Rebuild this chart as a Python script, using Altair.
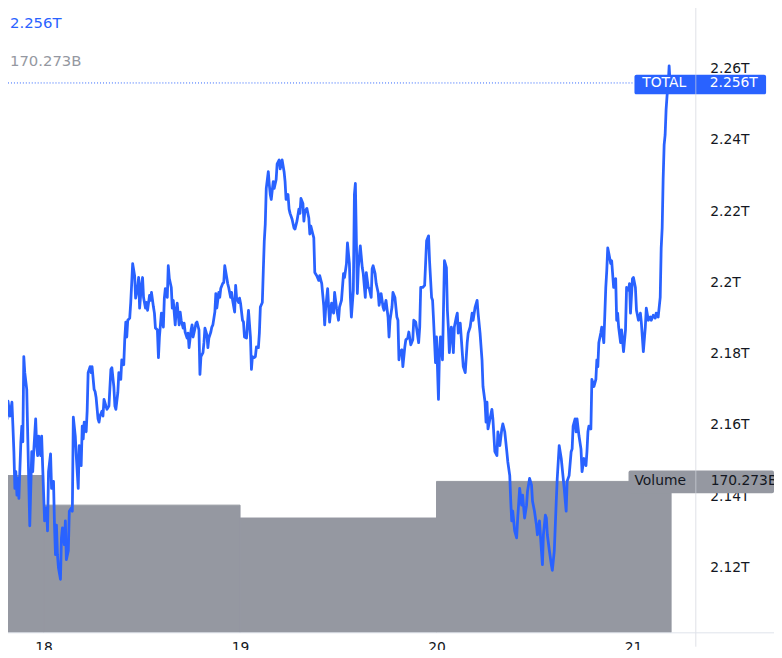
import altair as alt
import pandas as pd

# time in hours since 18 Dec 00:00, total market cap in billions USD
hours = [
 -5.32,-4.96,-4.72,-4.59,-4.47,-4.35,-4.11,-3.87,-3.75,-3.63,-3.51,-3.39,-3.26,-3.14,-3.02,-2.78,-2.66,-2.54,-2.42,-2.30,
 -2.06,-1.93,-1.69,-1.45,-1.33,-1.21,-0.97,-0.85,-0.73,-0.60,-0.36,-0.24,-0.12,0.12,0.36,0.48,0.60,0.85,0.97,1.21,
 1.33,1.45,1.57,1.69,1.81,2.06,2.18,2.30,2.54,2.66,2.78,3.02,3.14,3.39,3.51,3.63,3.87,3.99,4.23,4.35,
 4.59,4.72,4.84,4.96,5.20,5.32,5.44,5.68,5.80,5.92,6.17,6.29,6.41,6.65,6.77,6.89,7.13,7.25,7.38,7.62,
 7.74,7.98,8.22,8.34,8.58,8.71,8.83,9.07,9.19,9.43,9.55,9.79,9.91,10.04,
 10.16,10.28,10.52,10.64,10.76,10.88,11.12,11.24,11.49,11.61,11.73,11.97,12.09,12.21,12.45,12.57,12.70,12.94,13.06,13.18,
 13.42,13.54,13.66,13.90,14.03,14.15,14.39,14.63,14.75,14.87,15.11,15.23,15.36,15.60,15.72,15.84,16.08,16.20,16.32,16.56,
 16.69,16.81,17.05,17.17,17.29,17.53,17.65,17.77,18.02,18.14,18.26,18.50,18.62,18.74,18.98,19.10,19.22,19.47,19.59,19.71,
 19.95,20.07,20.19,20.43,20.55,20.68,20.92,21.04,21.16,21.40,21.52,21.64,21.88,22.01,22.13,22.37,22.49,22.61,22.85,22.97,
 23.09,23.34,23.46,23.58,23.82,23.94,24.06,24.30,24.42,24.54,24.79,24.91,25.03,25.27,25.39,25.51,25.75,25.87,26.00,26.24,
 26.36,26.48,26.72,26.84,26.96,
 27.08,27.20,27.45,27.57,27.69,27.81,28.05,28.17,28.41,28.53,28.78,28.90,29.14,29.38,29.50,29.62,29.86,29.99,30.11,30.35,
 30.59,30.71,30.95,31.19,31.32,31.44,31.68,31.80,31.92,32.16,32.40,32.52,32.65,32.89,33.01,33.13,33.37,33.61,33.73,33.98,
 34.22,34.34,34.46,34.70,34.82,34.94,35.18,35.43,35.55,35.79,36.03,36.15,36.39,36.64,36.76,37.00,37.12,37.36,37.48,37.60,
 37.84,37.97,38.09,38.21,38.33,38.45,38.69,38.93,39.05,39.30,39.42,39.66,39.78,40.02,40.14,40.26,40.50,40.63,40.87,40.99,
 41.23,41.47,41.59,41.83,42.08,42.20,42.32,42.56,42.68,42.92,43.16,43.29,43.41,43.53,43.77,43.89,44.13,44.25,44.49,44.62,
 44.86,45.10,45.22,45.46,
 45.82,45.95,46.07,46.31,46.55,46.79,47.03,47.15,47.40,47.52,47.64,47.88,48.00,48.24,48.36,48.48,48.73,48.85,48.97,49.21,
 49.33,49.45,49.57,49.81,49.94,50.06,50.18,50.42,50.54,50.66,50.90,51.15,51.27,51.51,51.75,51.87,52.11,52.35,52.47,52.72,
 52.96,53.08,53.32,53.56,53.68,53.93,54.05,54.17,54.29,54.53,54.77,54.89,55.13,55.38,55.50,55.74,55.98,56.10,56.34,56.59,
 56.71,56.95,57.07,57.19,57.31,57.55,57.79,57.92,58.16,58.40,58.52,58.76,59.00,59.12,59.37,59.61,59.73,59.97,60.21,60.33,
 60.58,60.82,60.94,61.06,61.30,61.42,61.54,61.79,62.03,62.15,62.39,62.63,62.75,62.99,63.24,63.36,63.60,63.84,63.96,64.20,
 64.45,64.57,64.69,64.93,65.05,65.17,65.41,65.65,65.78,66.02,66.26,66.38,66.50,66.62,66.86,66.98,67.23,67.47,67.59,67.71,
 67.83,68.07,68.19,68.44,68.68,68.80,68.92,69.16,69.28,69.40,69.64,69.89,70.01,70.13,70.25,70.49,70.61,70.85,71.09,71.22,
 71.46,71.58,71.70,71.94,72.06,72.30,72.43,72.67,72.91,73.03,73.27,73.51,73.63,73.88,74.12,74.24,74.48,74.72,74.84,75.08,
 75.33,75.45,75.57,75.69,75.81,75.93,76.05,76.17,76.30,76.42,76.54,
]
total_b = [
 2156.1,2174.2,2174.7,2166.4,2161.7,2166.7,2162.5,2166.4,2159.7,2152.5,2142.2,2146.9,2140.3,2145.0,2139.4,2155.3,2159.7,2155.3,2179.2,2174.7,
 2170.0,2156.1,2131.7,2152.5,2146.9,2152.5,2161.7,2154.2,2151.4,2156.9,2151.4,2156.9,2148.6,2133.1,2136.7,2130.3,2146.9,2151.9,2142.2,2144.2,
 2131.9,2123.6,2131.9,2123.6,2120.0,2116.7,2128.3,2131.1,2126.4,2133.1,2122.2,2124.7,2135.8,2136.7,2135.8,2162.2,2156.9,2151.4,2142.2,2154.2,
 2148.6,2159.7,2156.1,2160.8,2158.1,2163.9,2174.7,2176.4,2174.7,2176.4,2170.0,2169.4,2167.8,2161.7,2160.8,2162.5,2163.9,2162.5,2167.2,2165.3,
 2164.4,2165.3,2175.6,2176.1,2170.8,2165.3,2164.4,2169.2,2174.7,2172.8,2178.3,2176.9,2183.9,2188.9,
 2184.7,2189.4,2190.0,2194.2,2199.7,2205.3,2201.9,2195.6,2198.6,2201.4,2192.8,2199.7,2201.4,2195.8,2192.8,2194.4,2192.2,2196.4,2195.0,2197.2,
 2193.1,2191.4,2187.2,2186.7,2178.9,2184.7,2191.4,2187.5,2195.6,2198.3,2195.8,2204.7,2201.1,2198.6,2192.8,2195.0,2188.1,2192.2,2194.2,2188.1,
 2191.7,2189.4,2187.2,2188.6,2186.1,2184.4,2185.8,2181.7,2186.7,2188.1,2184.7,2187.2,2188.6,2188.9,2186.7,2174.2,2179.2,2180.3,2183.1,2187.2,
 2185.3,2181.7,2184.4,2186.1,2187.5,2188.1,2191.7,2196.9,2192.8,2197.2,2195.8,2198.3,2199.7,2200.0,2204.7,2201.4,2199.7,2198.6,2195.8,2197.2,
 2195.0,2191.7,2199.2,2195.6,2194.4,2195.6,2194.2,2189.4,2188.9,2184.7,2184.4,2188.6,2192.2,2184.7,2175.6,2179.2,2178.9,2179.2,2181.9,2181.7,
 2185.8,2193.1,2194.4,2203.3,2211.7,
 2216.4,2226.4,2231.1,2227.5,2224.7,2223.3,2228.3,2226.4,2228.9,2233.3,2234.4,2231.9,2234.4,2231.1,2228.3,2223.3,2224.7,2220.6,2219.4,2217.8,
 2215.3,2215.0,2217.2,2220.6,2219.4,2223.6,2222.2,2217.2,2220.0,2220.8,2218.1,2213.6,2215.8,2213.6,2212.5,2202.8,2201.9,2200.6,2201.9,2199.7,
 2193.6,2188.1,2192.8,2198.3,2193.1,2188.9,2194.2,2191.4,2197.2,2192.8,2189.4,2193.1,2195.0,2202.5,2201.4,2205.3,2211.1,2205.3,2195.8,2190.3,
 2197.8,2224.7,2227.8,2211.7,2196.9,2204.2,2210.3,2204.2,2202.5,2195.8,2202.8,2198.6,2198.3,2195.8,2203.9,2204.7,2202.5,2199.7,2197.2,2193.6,
 2196.9,2193.1,2192.2,2195.0,2190.3,2184.7,2189.4,2193.1,2197.2,2195.8,2190.3,2189.4,2178.3,2180.6,2181.1,2176.4,2181.9,2183.9,2184.4,2186.1,
 2182.5,2183.9,2189.4,2188.9,
 2183.1,2187.5,2198.6,2198.6,2199.2,2211.7,2213.1,2206.1,2195.8,2195.0,2189.4,2177.5,2184.7,2167.2,2180.3,2184.7,2178.3,2192.2,2206.1,2204.2,
 2192.2,2187.2,2180.3,2187.5,2185.8,2180.3,2187.5,2190.3,2191.4,2185.8,2188.6,2180.3,2176.4,2174.7,2183.1,2185.8,2187.5,2191.4,2189.4,2193.1,
 2195.0,2191.4,2185.8,2178.3,2170.8,2166.4,2160.8,2166.4,2158.9,2161.7,2164.4,2161.7,2152.5,2151.4,2158.1,2154.2,2158.9,2160.3,2158.1,2152.5,
 2149.7,2145.8,2138.6,2133.1,2135.8,2130.3,2128.3,2133.9,2142.2,2137.5,2140.3,2133.9,2137.5,2141.4,2145.0,2143.1,2138.6,2135.8,2131.9,2129.2,
 2133.1,2124.7,2120.8,2129.2,2134.7,2133.9,2129.2,2124.7,2120.8,2119.2,2124.7,2138.6,2145.0,2154.2,2150.6,2147.8,2142.2,2135.8,2144.2,2145.8,
 2152.5,2153.3,2159.7,2161.7,2158.1,2161.7,2156.9,2153.3,2146.9,2150.6,2148.6,2152.5,2158.1,2159.7,2158.9,2172.8,2170.8,2172.8,2178.3,2176.4,
 2183.1,2185.8,2187.5,2183.1,2198.6,2203.3,2209.7,2206.9,2205.3,2206.1,2198.6,2201.1,2189.4,2191.4,2187.5,2183.1,2186.7,2180.6,2186.7,2198.6,
 2197.8,2199.7,2191.4,2201.1,2201.4,2198.6,2192.2,2189.4,2191.4,2188.6,2180.6,2187.5,2192.8,2189.4,2190.3,2189.4,2190.8,2190.0,2191.4,2190.3,
 2195.8,2209.7,2215.3,2229.2,2238.6,2241.4,2248.6,2252.5,2255.3,2260.8,2256.0,
]

# daily volume (billions USD)
vol_start = [-24, 0, 24, 48]
vol_end = [0, 24, 48, 76.66]
vol_b = [176.9, 143.6, 129.1, 170.273]

x_tick_hours = [0, 24, 48, 72]
y_ticks_b = [2120, 2140, 2160, 2180, 2200, 2220, 2240, 2260]

last_total = 2256.0
last_volume = 170.273

X_DOM = [-4.35, 79.68]
Y_DOM = [2101.67, 2276.11]
V_DOM = [0, 698.9]

BLUE = "#2962FF"
GRAY = "#9598A1"
DARK = "#131722"
FONT = "DejaVu Sans"

line_df = pd.DataFrame({"h": hours, "v": total_b})
vol_df = pd.DataFrame({"s": vol_start, "e": vol_end, "vol": vol_b, "zero": [0] * len(vol_b)})
one = pd.DataFrame({"k": [0]})

xscale = alt.Scale(domain=X_DOM, nice=False, zero=False)
yscale = alt.Scale(domain=Y_DOM, nice=False, zero=False)
vscale = alt.Scale(domain=V_DOM, nice=False, zero=False)

volume = alt.Chart(vol_df).mark_rect(color=GRAY, stroke=GRAY, strokeWidth=1, clip=True).encode(
    x=alt.X("s:Q", scale=xscale,
            axis=alt.Axis(values=x_tick_hours, labelExpr="'' + (18 + round(datum.value / 24))",
                          domain=False, ticks=False, grid=False, labelPadding=8,
                          labelFont=FONT, labelFontSize=14, labelColor=DARK, title=None)),
    x2="e:Q",
    y=alt.Y("vol:Q", scale=vscale, axis=None),
    y2="zero:Q",
)

dotted = alt.Chart(one).mark_rule(color=BLUE, strokeDash=[1, 2], strokeWidth=1).encode(
    y=alt.YDatum(last_total, type="quantitative", scale=yscale, axis=None),
    x=alt.value(0), x2=alt.value(633),
)

line = alt.Chart(line_df).mark_line(color=BLUE, strokeWidth=2.8, clip=True,
                                     strokeJoin="round").encode(
    x=alt.X("h:Q", scale=xscale),
    y=alt.Y("v:Q", scale=yscale,
            axis=alt.Axis(orient="right", values=y_ticks_b,
                          labelExpr="format(datum.value / 1000, '.2~f') + 'T'",
                          domain=False, ticks=False, grid=False, labelPadding=14,
                          labelAlign="left", labelFont=FONT, labelFontSize=14,
                          labelColor=DARK, title=None)),
)

total_box = alt.Chart(one).mark_rect(color=BLUE, cornerRadius=2).encode(
    x=alt.value(633), x2=alt.value(766),
    y=alt.YDatum(2258.3, type="quantitative", scale=yscale, axis=None),
    y2=alt.Y2Datum(2252.8),
)
total_name = alt.Chart(one).mark_text(text="TOTAL", color="white", font=FONT, fontSize=14,
                                      align="center", baseline="middle").encode(
    x=alt.value(663),
    y=alt.YDatum(last_total, type="quantitative", scale=yscale, axis=None),
)
total_val = alt.Chart(one).mark_text(text="2.256T", color="white", font=FONT, fontSize=14,
                                     align="left", baseline="middle").encode(
    x=alt.value(709),
    y=alt.YDatum(last_total, type="quantitative", scale=yscale, axis=None),
)

vol_box = alt.Chart(one).mark_rect(color=GRAY, cornerRadius=2).encode(
    x=alt.value(627), x2=alt.value(774),
    y=alt.YDatum(182.5, type="quantitative", scale=vscale, axis=None),
    y2=alt.Y2Datum(156.9),
)
vol_name = alt.Chart(one).mark_text(text="Volume", color=DARK, font=FONT, fontSize=14,
                                    align="center", baseline="middle").encode(
    x=alt.value(659),
    y=alt.YDatum(last_volume, type="quantitative", scale=vscale, axis=None),
)
vol_val = alt.Chart(one).mark_text(text="170.273B", color=DARK, font=FONT, fontSize=14,
                                   align="left", baseline="middle").encode(
    x=alt.value(710),
    y=alt.YDatum(last_volume, type="quantitative", scale=vscale, axis=None),
)

legend_total = alt.Chart(one).mark_text(text="2.256T", color=BLUE, font=FONT, fontSize=15,
                                        align="left", baseline="alphabetic").encode(
    x=alt.value(2), y=alt.value(17))
legend_vol = alt.Chart(one).mark_text(text="170.273B", color=GRAY, font=FONT, fontSize=15,
                                      align="left", baseline="alphabetic").encode(
    x=alt.value(2), y=alt.value(55))

sep_v = alt.Chart(one).mark_rule(color="#d1d4dc", opacity=0.7, strokeWidth=1).encode(
    x=alt.value(695), y=alt.value(-8), y2=alt.value(642))
sep_h = alt.Chart(one).mark_rule(color="#e0e3eb", strokeWidth=1).encode(
    y=alt.value(628), x=alt.value(-8), x2=alt.value(774))

chart = alt.layer(
    volume, dotted, line, total_box, total_name, total_val,
    vol_box, vol_name, vol_val, legend_total, legend_vol, sep_v, sep_h,
).resolve_scale(y="independent").properties(
    width=695, height=628,
    autosize=alt.AutoSizeParams(type="none"),
    padding={"left": 0, "top": 0, "right": 79, "bottom": 14},
    background="white",
).configure_view(stroke=None)

chart.save("out.html", embed_options={"renderer": "svg", "actions": False})
